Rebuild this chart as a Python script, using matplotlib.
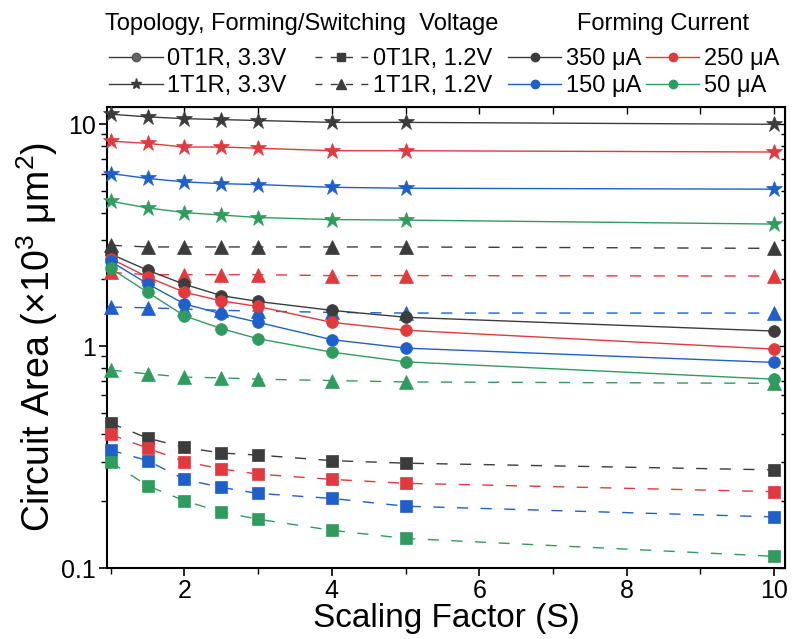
import matplotlib
matplotlib.use('Agg')
import matplotlib.pyplot as plt
from matplotlib.lines import Line2D
from matplotlib.ticker import LogLocator, FixedLocator, FixedFormatter, NullFormatter

plt.rcParams['font.family'] = ['Liberation Sans', 'DejaVu Sans']
plt.rcParams['mathtext.fontset'] = 'custom'
plt.rcParams['mathtext.rm'] = 'Liberation Sans'
plt.rcParams['mathtext.it'] = 'Liberation Sans:italic'

# ---------------- data ----------------
scaling = [1, 1.5, 2, 2.5, 3, 4, 5, 10]
currents = ['350 μA', '250 μA', '150 μA', '50 μA']
colors = ['#3c3c3c', '#e0393e', '#1e5fc9', '#2f9c5e']

# 1T1R, 3.3V (stars)
star_350 = [11.1, 10.8, 10.6, 10.5, 10.4, 10.2, 10.2, 10.0]
star_250 = [8.4, 8.2, 7.9, 7.9, 7.8, 7.6, 7.6, 7.5]
star_150 = [6.0, 5.7, 5.5, 5.4, 5.35, 5.2, 5.15, 5.1]
star_50 = [4.5, 4.2, 4.0, 3.9, 3.8, 3.72, 3.7, 3.55]

# 1T1R, 1.2V (triangles)
tri_350 = [2.85, 2.8, 2.8, 2.8, 2.8, 2.8, 2.8, 2.76]
tri_250 = [2.15, 2.1, 2.1, 2.1, 2.1, 2.08, 2.08, 2.07]
tri_150 = [1.5, 1.49, 1.47, 1.45, 1.44, 1.42, 1.41, 1.41]
tri_50 = [0.78, 0.75, 0.725, 0.72, 0.71, 0.70, 0.69, 0.68]

# 0T1R, 3.3V (circles)
circ_350 = [2.6, 2.2, 1.9, 1.69, 1.59, 1.45, 1.35, 1.17]
circ_250 = [2.48, 2.05, 1.75, 1.6, 1.51, 1.28, 1.18, 0.97]
circ_150 = [2.41, 1.91, 1.55, 1.40, 1.28, 1.07, 0.98, 0.845]
circ_50 = [2.24, 1.75, 1.37, 1.2, 1.08, 0.94, 0.85, 0.71]

# 0T1R, 1.2V (squares)
sq_350 = [0.45, 0.385, 0.35, 0.33, 0.323, 0.305, 0.297, 0.277]
sq_250 = [0.40, 0.347, 0.302, 0.28, 0.265, 0.251, 0.241, 0.221]
sq_150 = [0.34, 0.305, 0.251, 0.231, 0.217, 0.206, 0.19, 0.17]
sq_50 = [0.30, 0.235, 0.201, 0.179, 0.166, 0.148, 0.136, 0.113]

topologies = ['0T1R, 3.3V', '1T1R, 3.3V', '0T1R, 1.2V', '1T1R, 1.2V']

# ---------------- figure ----------------
fig = plt.figure(figsize=(7.93, 6.39), dpi=100)
ax = fig.add_axes([0.135, 0.111, 0.855, 0.722])

dash = (0, (8, 9))
groups = [
    ([star_350, star_250, star_150, star_50], '*', 12, '-'),
    ([tri_350, tri_250, tri_150, tri_50], '^', 9.5, dash),
    ([circ_350, circ_250, circ_150, circ_50], 'o', 8.5, '-'),
    ([sq_350, sq_250, sq_150, sq_50], 's', 8, dash),
]
for series, mk, ms, ls in groups:
    for vals, c in zip(series, colors):
        ax.plot(scaling, vals, linestyle=ls, color=c, lw=1.0, marker=mk,
                markersize=ms, markerfacecolor=c, markeredgecolor=c,
                markeredgewidth=0.5, clip_on=False, zorder=3)

ax.set_yscale('log')
ax.set_xlim(0.95, 10.15)
ax.set_ylim(0.1, 12)

ax.xaxis.set_major_locator(FixedLocator([2, 4, 6, 8, 10]))
ax.xaxis.set_minor_locator(FixedLocator([1, 3, 5, 7, 9]))
ax.yaxis.set_major_locator(FixedLocator([0.1, 1, 10]))
ax.yaxis.set_major_formatter(FixedFormatter(['0.1', '1', '10']))
ax.yaxis.set_minor_locator(LogLocator(base=10, subs=range(2, 10)))
ax.yaxis.set_minor_formatter(NullFormatter())

ax.tick_params(axis='both', which='major', direction='out', length=6, width=1.2,
               labelsize=18, pad=2)
ax.tick_params(axis='both', which='minor', direction='out', length=4, width=1.0)
for s in ax.spines.values():
    s.set_linewidth(1.5)

# inward ticks on top/right
secx = ax.secondary_xaxis('top')
secx.xaxis.set_major_locator(FixedLocator([1, 2, 3, 4, 5, 6, 7, 8, 9, 10]))
secx.tick_params(direction='in', length=5, width=1.0, labeltop=False)
secy = ax.secondary_yaxis('right')
secy.yaxis.set_major_locator(FixedLocator([0.1, 1, 10]))
secy.yaxis.set_minor_locator(LogLocator(base=10, subs=range(2, 10)))
secy.tick_params(which='both', direction='in', width=1.0, labelright=False)
secy.tick_params(which='major', length=6)
secy.tick_params(which='minor', length=3)
secy.yaxis.set_minor_formatter(NullFormatter())

ax.set_xlabel('Scaling Factor (S)', fontsize=24, labelpad=0)
ax.set_ylabel('Circuit Area (×10$^3$ μm$^2$)', fontsize=27, labelpad=1)

# ---------------- legends ----------------
dark = '#3c3c3c'
topo_handles = [
    Line2D([], [], color=dark, lw=1.0, marker='o', ms=6, mfc='#666666', mec='#555555'),
    Line2D([], [], color=dark, lw=1.0, marker='*', ms=8, mfc=dark, mec=dark),
    Line2D([], [], color=dark, lw=1.0, linestyle=(0, (5, 6)), marker='s', ms=6, mfc=dark, mec=dark),
    Line2D([], [], color=dark, lw=1.0, linestyle=(0, (5, 6)), marker='^', ms=7, mfc=dark, mec=dark),
]
leg1 = fig.legend(topo_handles, topologies, loc='upper left', ncol=2,
                  bbox_to_anchor=(0.138, 0.925), frameon=False, fontsize=17,
                  handlelength=2.25, handletextpad=0.2, columnspacing=1.2,
                  labelspacing=0.22, borderpad=0, borderaxespad=0)

cur_handles = [Line2D([], [], color=c, lw=1.0, marker='o', ms=6, mfc=c, mec=c)
               for c in colors]
order = [0, 2, 1, 3]
leg2 = fig.legend([cur_handles[i] for i in order], [currents[i] for i in order],
                  loc='upper left', ncol=2,
                  bbox_to_anchor=(0.641, 0.925), frameon=False, fontsize=17,
                  handlelength=2.25, handletextpad=0.2, columnspacing=0.2,
                  labelspacing=0.22, borderpad=0, borderaxespad=0)

fig.text(0.132, 0.962, 'Topology, Forming/Switching  Voltage', fontsize=17,
         ha='left', va='center')
fig.text(0.727, 0.962, 'Forming Current', fontsize=17, ha='left', va='center')

fig.savefig('out.png', dpi=100)
